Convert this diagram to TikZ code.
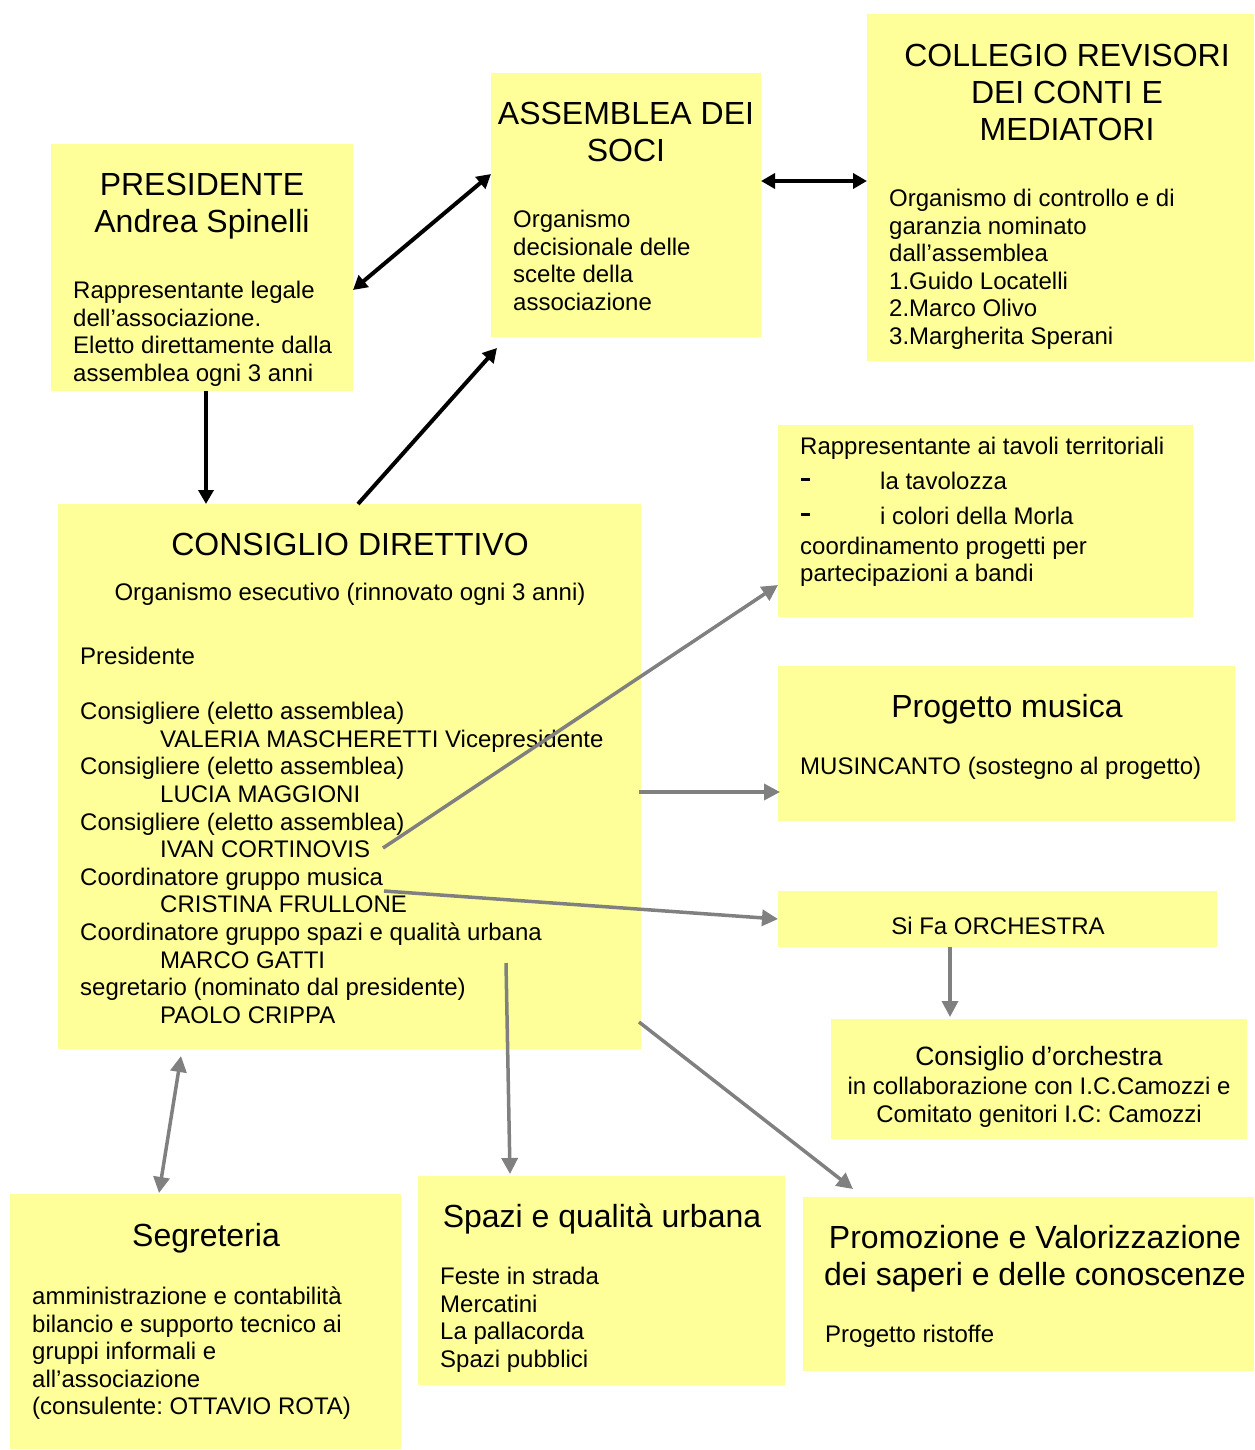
\documentclass[tikz,border=0pt]{standalone}
\usepackage{fontspec}
\setmainfont{Liberation Sans}
\usetikzlibrary{arrows.meta}
\definecolor{boxy}{HTML}{FFFF99}
\definecolor{arrgray}{HTML}{808080}
\frenchspacing
\newcommand{\dashmark}{\makebox[80pt][l]{\hspace*{1pt}\raisebox{8.5pt}{\rule{8.5pt}{3pt}}}}
\begin{document}
\begin{tikzpicture}[x=1pt,y=-1pt,
  box/.style={fill=boxy, draw=none, inner sep=0pt, outer sep=0pt, anchor=north west},
  body/.style={font=\fontsize{24}{27.6}\selectfont, align=left, anchor=north west, inner sep=0pt},
  bodyc/.style={font=\fontsize{24}{27.6}\selectfont, align=center, anchor=north, inner sep=0pt},
  ttl/.style={font=\fontsize{32}{37}\selectfont, align=center, anchor=north, inner sep=0pt},
  blk/.style={line width=4pt, black, -{Triangle[length=14pt,width=15pt]}},
  blk2/.style={line width=4pt, black, {Triangle[length=14pt,width=15pt]}-{Triangle[length=14pt,width=15pt]}},
  gry/.style={line width=3.5pt, arrgray, -{Triangle[length=16pt,width=16pt]}},
  gry2/.style={line width=3.5pt, arrgray, {Triangle[length=16pt,width=16pt]}-{Triangle[length=16pt,width=16pt]}}
]
\useasboundingbox (0,0) rectangle (1254,1450);

% boxes
\node[box, minimum width=302pt, minimum height=247pt] (pres) at (51,144) {};
\node[box, minimum width=270pt, minimum height=264pt] (ass) at (491,73) {};
\node[box, minimum width=387pt, minimum height=347pt] (coll) at (867,14) {};
\node[box, minimum width=583pt, minimum height=545pt] (cons) at (58,504) {};
\node[box, minimum width=415pt, minimum height=192pt] (rapp) at (778,425) {};
\node[box, minimum width=457pt, minimum height=155pt] (musica) at (778,666) {};
\node[box, minimum width=439pt, minimum height=56pt] (orch) at (778,891) {};
\node[box, minimum width=416pt, minimum height=120pt] (cdo) at (831,1019) {};
\node[box, minimum width=391pt, minimum height=255pt] (segr) at (10,1194) {};
\node[box, minimum width=367pt, minimum height=209pt] (spazi) at (418,1176) {};
\node[box, minimum width=451pt, minimum height=174pt] (prom) at (803,1197) {};

% texts
\node[ttl] (presT) at (202,169) {\strut PRESIDENTE\\Andrea Spinelli};
\node[body] (presB) at (73,279) {\strut Rappresentante legale\\dell’associazione.\\Eletto direttamente dalla\\assemblea ogni 3 anni};

\node[ttl] (assT) at (626,98) {\strut ASSEMBLEA DEI\\SOCI};
\node[body] (assB) at (513,208) {\strut Organismo\\decisionale delle\\scelte della\\associazione};

\node[ttl] (collT) at (1067,40) {\strut COLLEGIO REVISORI\\DEI CONTI E\\MEDIATORI};
\node[body] (collB) at (889,187) {\strut Organismo di controllo e di\\garanzia nominato\\dall’assemblea\\1.Guido Locatelli\\2.Marco Olivo\\3.Margherita Sperani};

\node[ttl] (consT) at (350,529) {\strut CONSIGLIO DIRETTIVO};
\node[bodyc] (consS) at (350,581) {\strut Organismo esecutivo (rinnovato ogni 3 anni)};
\node[body] (consB) at (80,645) {\strut Presidente\\ \strut\\
Consigliere (eletto assemblea)\\
\hspace*{80pt}VALERIA MASCHERETTI Vicepresidente\\
Consigliere (eletto assemblea)\\
\hspace*{80pt}LUCIA MAGGIONI\\
Consigliere (eletto assemblea)\\
\hspace*{80pt}IVAN CORTINOVIS\\
Coordinatore gruppo musica\\
\hspace*{80pt}CRISTINA FRULLONE\\
Coordinatore gruppo spazi e qualità urbana\\
\hspace*{80pt}MARCO GATTI\\
segretario (nominato dal presidente)\\
\hspace*{80pt}PAOLO CRIPPA};

\node[body] (rappB) at (800,435) {\strut Rappresentante ai tavoli territoriali\\[7pt]
\dashmark la tavolozza\\[8pt]
\dashmark i colori della Morla\\[2pt]
coordinamento progetti per\\partecipazioni a bandi};

\node[ttl] (musT) at (1007,691) {\strut Progetto musica};
\node[body] (musB) at (800,755) {\strut MUSINCANTO (sostegno al progetto)};

\node[bodyc] (orchT) at (998,915) {\strut Si Fa ORCHESTRA};

\node[ttl, font=\fontsize{26.5}{30}\selectfont] (cdoT) at (1039,1044) {\strut Consiglio d’orchestra};
\node[bodyc, font=\fontsize{24}{28}\selectfont] (cdoB) at (1039,1075) {\strut in collaborazione con I.C.Camozzi e\\Comitato genitori I.C: Camozzi};

\node[ttl] (segrT) at (206,1220) {\strut Segreteria};
\node[body] (segrB) at (32,1285) {\strut amministrazione e contabilità\\bilancio e supporto tecnico ai\\gruppi informali e\\all’associazione\\(consulente: OTTAVIO ROTA)};

\node[ttl] (spaziT) at (602,1201) {\strut Spazi e qualità urbana};
\node[body] (spaziB) at (440,1265) {\strut Feste in strada\\Mercatini\\La pallacorda\\Spazi pubblici};

\node[ttl] (promT) at (1035,1222) {\strut Promozione e Valorizzazione\\dei saperi e delle conoscenze};
\node[body] (promB) at (825,1323) {\strut Progetto ristoffe};

% black connectors
\draw[blk2] ([yshift=-22.5pt]pres.east) -- ([yshift=31pt]ass.west);
\draw[blk2] ([yshift=24pt]ass.east) -- ([yshift=6.5pt]coll.west);
\draw[blk] ([xshift=4pt]pres.south) -- ([xshift=4pt]pres.south |- cons.north);
\draw[blk] ([xshift=8.5pt]cons.north) -- ([xshift=-129pt,yshift=-11pt]ass.south);

% gray connectors
\draw[gry] ([xshift=33.5pt,yshift=-71.5pt]cons.center) -- ([yshift=-64pt]rapp.west);
\draw[gry] ([xshift=-2pt,yshift=-15.5pt]cons.east) -- ([xshift=2pt,yshift=-48.5pt]musica.west);
\draw[gry] ([xshift=34.5pt,yshift=-114.5pt]cons.center) -- (orch.west);
\draw[gry] ([xshift=-47.5pt]orch.south) -- ([xshift=-47.5pt,yshift=2pt]orch.south |- cdo.north);
\draw[gry] ([xshift=156.5pt,yshift=86pt]cons.south) -- ([xshift=-91.5pt,yshift=2pt]spazi.north);
\draw[gry] ([xshift=-2pt,yshift=27pt]cons.south east) -- ([xshift=50pt,yshift=8pt]prom.north west);
\draw[gry2] ([xshift=-46.5pt,yshift=1pt]segr.north) -- ([xshift=-168.5pt,yshift=-7pt]cons.south);
\end{tikzpicture}
\end{document}
